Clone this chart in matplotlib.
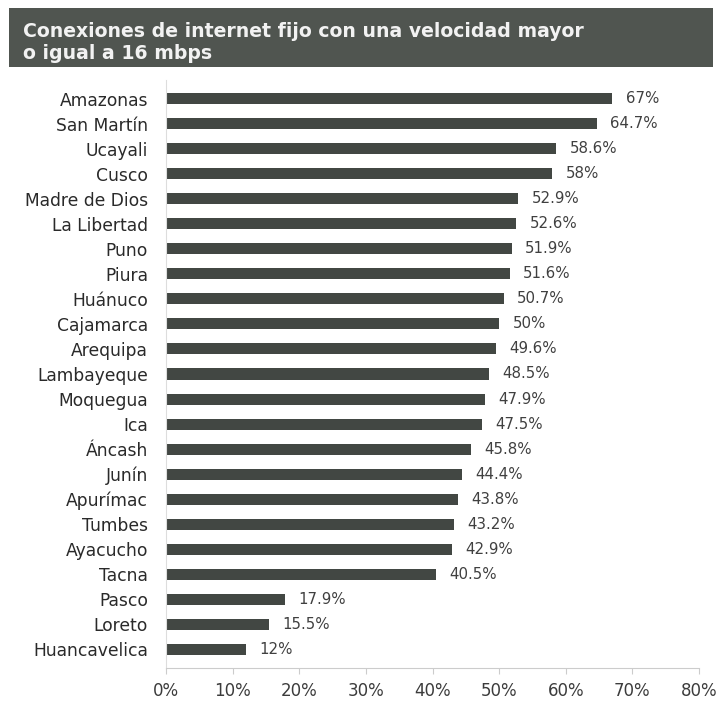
import matplotlib
matplotlib.use("Agg")
import matplotlib.pyplot as plt
from matplotlib.patches import Rectangle

regions = ["Amazonas", "San Martín", "Ucayali", "Cusco", "Madre de Dios",
           "La Libertad", "Puno", "Piura", "Huánuco", "Cajamarca", "Arequipa",
           "Lambayeque", "Moquegua", "Ica", "Áncash", "Junín", "Apurímac",
           "Tumbes", "Ayacucho", "Tacna", "Pasco", "Loreto", "Huancavelica"]
values = [67, 64.7, 58.6, 58, 52.9, 52.6, 51.9, 51.6, 50.7, 50, 49.6, 48.5,
          47.9, 47.5, 45.8, 44.4, 43.8, 43.2, 42.9, 40.5, 17.9, 15.5, 12]
value_labels = ["67%", "64.7%", "58.6%", "58%", "52.9%", "52.6%", "51.9%",
                "51.6%", "50.7%", "50%", "49.6%", "48.5%", "47.9%", "47.5%",
                "45.8%", "44.4%", "43.8%", "43.2%", "42.9%", "40.5%", "17.9%",
                "15.5%", "12%"]
x_ticks = [0, 10, 20, 30, 40, 50, 60, 70, 80]
x_tick_labels = ["0%", "10%", "20%", "30%", "40%", "50%", "60%", "70%", "80%"]
title_line1 = "Conexiones de internet fijo con una velocidad mayor"
title_line2 = "o igual a 16 mbps"

plt.rcParams["font.family"] = ["DejaVu Sans"]

W, H = 718, 706
fig = plt.figure(figsize=(W / 100, H / 100), dpi=100)
fig.patch.set_facecolor("white")

# Title banner
fig.patches.append(Rectangle((9 / W, 1 - 67 / H), (713 - 9) / W, (67 - 8) / H,
                             transform=fig.transFigure, facecolor="#505550",
                             edgecolor="none", zorder=0))
for line, base in ((title_line1, 37), (title_line2, 59)):
    fig.text(23 / W, 1 - base / H, line, color="#f2f2f2", fontsize=13.6,
             fontweight="bold", ha="left", va="baseline")

ax = fig.add_axes([166 / W, 1 - 668 / H, (699 - 166) / W, (668 - 80) / H])

n = len(regions)
ypos = list(range(n - 1, -1, -1))
ax.barh(ypos, values, height=0.44, color="#424743", edgecolor="none")

for y, v, lab in zip(ypos, values, value_labels):
    ax.annotate(lab, (v, y), xytext=(9.5, 0), textcoords="offset points",
                ha="left", va="center", fontsize=10.8, color="#404040")

ax.set_xlim(0, 80)
ax.set_ylim(-0.75, n - 0.25)
ax.set_xticks(x_ticks)
ax.set_xticklabels(x_tick_labels, fontsize=12, color="#3c3c3c")
ax.set_yticks(ypos)
ax.set_yticklabels(regions, fontsize=12.3, color="#2a2a2a")

ax.tick_params(axis="y", length=0, pad=13)
ax.tick_params(axis="x", length=4, width=0.8, color="#cccccc", pad=6)
for s in ["top", "right"]:
    ax.spines[s].set_visible(False)
ax.spines["left"].set_color("#dddddd")
ax.spines["bottom"].set_color("#cccccc")
ax.spines["left"].set_linewidth(0.8)
ax.spines["bottom"].set_linewidth(0.8)

fig.savefig("out.png", dpi=100, facecolor="white")
